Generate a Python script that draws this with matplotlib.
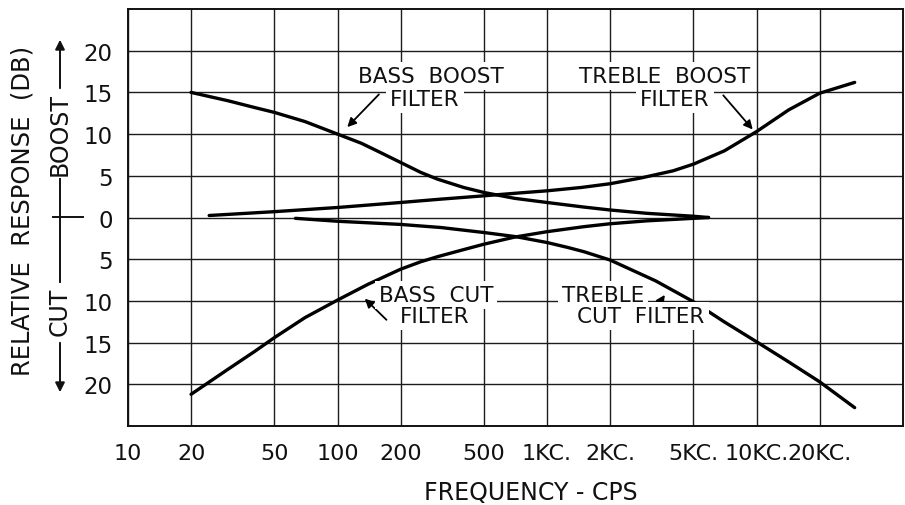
import matplotlib
matplotlib.use("Agg")
import matplotlib.pyplot as plt
from matplotlib.lines import Line2D
from matplotlib.ticker import NullLocator

plt.rcParams['font.family'] = ['DejaVu Sans']

W, H, DPI = 905, 506, 100

# Axis ticks and labels
freq_ticks = [10, 20, 50, 100, 200, 500, 1000, 2000, 5000, 10000, 20000]
freq_labels = ["10", "20", "50", "100", "200", "500", "1KC.", "2KC.", "5KC.", "10KC.", "20KC."]
db_ticks = [20, 15, 10, 5, 0, -5, -10, -15, -20]
db_labels = ["20", "15", "10", "5", "0", "5", "10", "15", "20"]

# Filter response curves (frequency in c.p.s., response in dB)
bass_boost_f = [20, 30, 40, 50, 70, 100, 130, 160, 200, 250, 300, 400, 500, 700,
                1000, 1500, 2000, 3000, 5000, 5900]
bass_boost_db = [15.0, 14.0, 13.2, 12.6, 11.5, 10.0, 8.9, 7.8, 6.6, 5.4, 4.6, 3.6, 3.0, 2.3,
                 1.8, 1.25, 0.9, 0.5, 0.15, 0.0]

bass_cut_f = [20, 30, 40, 50, 70, 100, 140, 200, 250, 300, 400, 500, 700, 1000,
              1500, 2000, 3000, 5000, 5900]
bass_cut_db = [-21.2, -18.2, -16.1, -14.4, -12.0, -9.9, -8.0, -6.2, -5.3, -4.7, -3.85, -3.2,
               -2.35, -1.7, -1.1, -0.75, -0.4, -0.1, 0.0]

treble_boost_f = [24.4, 50, 100, 200, 311, 500, 700, 1000, 1456, 2000, 2818, 4000, 5000,
                  7030, 10000, 14230, 20000, 29400]
treble_boost_db = [0.24, 0.7, 1.2, 1.8, 2.2, 2.6, 2.9, 3.2, 3.6, 4.05, 4.75, 5.6, 6.4,
                   8.0, 10.3, 12.9, 14.9, 16.2]

treble_cut_f = [63, 100, 200, 311, 500, 711, 1000, 1260, 1500, 2000, 3300, 5000, 7000,
                10000, 14000, 20000, 29400]
treble_cut_db = [-0.1, -0.45, -0.83, -1.2, -1.8, -2.3, -3.0, -3.6, -4.1, -5.1, -7.6, -10.1,
                 -12.5, -14.9, -17.2, -19.7, -22.8]


def fig_px(x, y):
    """Convert pixel position (from top-left) to figure fraction."""
    return (x / W, 1 - y / H)


fig = plt.figure(figsize=(W / DPI, H / DPI), dpi=DPI)
ax = fig.add_axes([128 / W, 1 - 427 / H, (903 - 128) / W, (427 - 10) / H])

ax.set_xscale('log')
ax.set_xlim(10, 50000)
ax.set_ylim(-25, 25)
ax.set_xticks(freq_ticks)
ax.set_xticklabels(freq_labels)
ax.xaxis.set_minor_locator(NullLocator())
ax.set_yticks(db_ticks)
ax.set_yticklabels(db_labels)
ax.tick_params(axis='both', length=0, colors='#111111')
ax.tick_params(axis='x', pad=12, labelsize=16)
ax.tick_params(axis='y', pad=11, labelsize=16.5)

ax.set_axisbelow(True)
ax.grid(True, which='major', color='#1c1c1c', lw=1.0)
for s in ax.spines.values():
    s.set_linewidth(1.4)
    s.set_color('#111111')

curve_kw = dict(color='black', lw=2.4, solid_capstyle='round', solid_joinstyle='round', zorder=3)
ax.plot(bass_boost_f, bass_boost_db, **curve_kw)
ax.plot(bass_cut_f, bass_cut_db, **curve_kw)
ax.plot(treble_boost_f, treble_boost_db, **curve_kw)
ax.plot(treble_cut_f, treble_cut_db, **curve_kw)

# Curve labels with white backing over the grid
lab_kw = dict(fontsize=15.5, color='#111111', ha='center', va='center', zorder=1,
              bbox=dict(facecolor='white', edgecolor='none', pad=3))


def add_label(x, y, s):
    fig.text(*fig_px(x, y), s, **lab_kw)


add_label(431, 77, "BASS  BOOST")
add_label(425, 100, "FILTER")
add_label(665, 77, "TREBLE  BOOST")
add_label(675, 100, "FILTER")
add_label(436, 296, "BASS  CUT")
add_label(435, 317, "FILTER")
add_label(603, 296, "TREBLE")
add_label(641, 317, "CUT  FILTER")

arrow_kw = dict(arrowstyle='-|>', color='black', lw=1.3, mutation_scale=13)
ax.annotate("", xy=(109, 10.6), xytext=(161, 15.0), arrowprops=arrow_kw, zorder=4)
ax.annotate("", xy=(9780, 10.3), xytext=(6800, 14.9), arrowprops=arrow_kw, zorder=4)
ax.annotate("", xy=(132, -9.5), xytext=(175, -12.5), arrowprops=arrow_kw, zorder=4)
ax.annotate("", xy=(3710, -9.0), xytext=(3215, -11.4), arrowprops=arrow_kw, zorder=4)

# Axis titles
fig.text(*fig_px(531, 493), "FREQUENCY - CPS", fontsize=17, ha='center', va='center', color='#111111')
fig.text(*fig_px(23, 211), "RELATIVE  RESPONSE  (DB)", fontsize=17.5, rotation=90,
         ha='center', va='center', color='#111111')

# Cut / boost direction indicator
fig.text(*fig_px(60, 135), "BOOST", fontsize=17, rotation=90, ha='center', va='center', color='#111111')
fig.text(*fig_px(60, 312), "CUT", fontsize=17, rotation=90, ha='center', va='center', color='#111111')
ind_kw = dict(color='#111111', lw=1.4, transform=fig.transFigure)
for (x0, y0), (x1, y1) in [((60, 180), (60, 218)), ((53, 218), (83, 218)),
                           ((60, 218), (60, 283))]:
    a, b = fig_px(x0, y0), fig_px(x1, y1)
    fig.add_artist(Line2D([a[0], b[0]], [a[1], b[1]], **ind_kw))
ind_arrow = dict(arrowstyle='-|>', color='#111111', lw=1.4, mutation_scale=14)
ax.annotate("", xy=fig_px(60, 38), xytext=fig_px(60, 92), xycoords='figure fraction',
            textcoords='figure fraction', arrowprops=ind_arrow, annotation_clip=False)
ax.annotate("", xy=fig_px(60, 396), xytext=fig_px(60, 341), xycoords='figure fraction',
            textcoords='figure fraction', arrowprops=ind_arrow, annotation_clip=False)

fig.savefig("out.png", dpi=DPI)
